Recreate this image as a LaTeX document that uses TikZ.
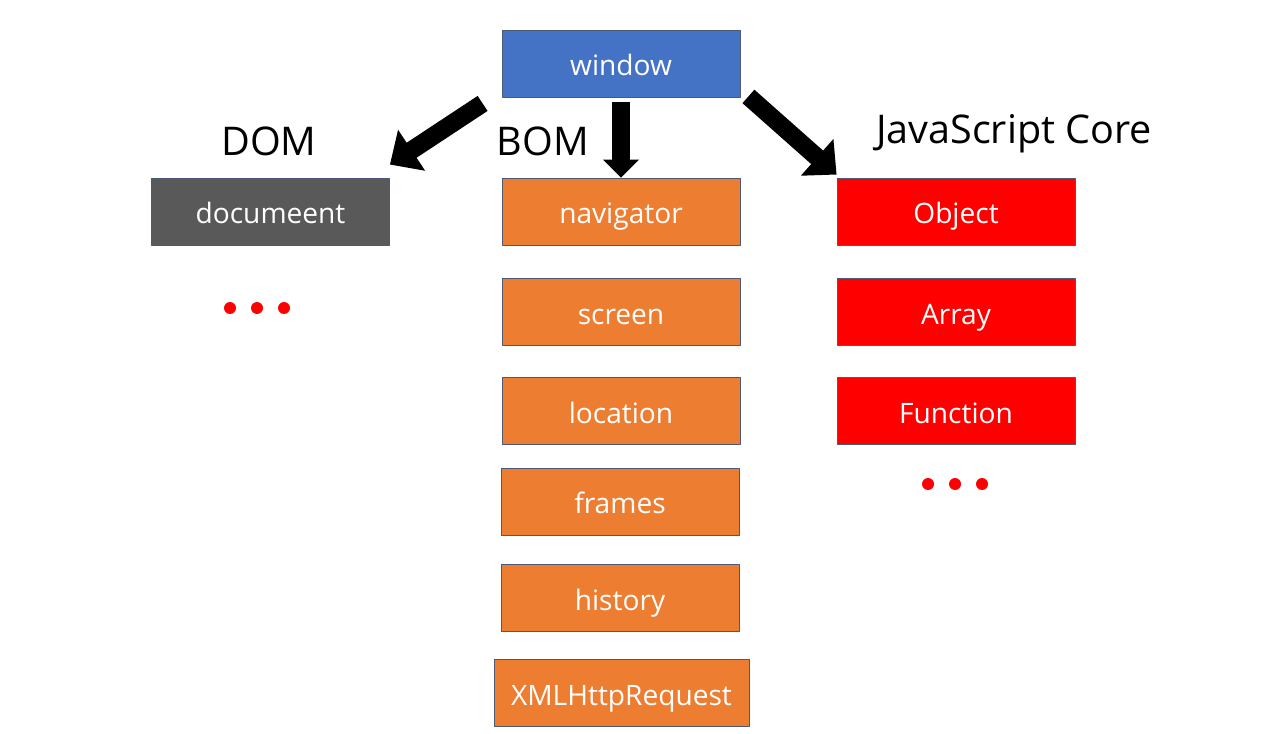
\documentclass[tikz,border=0pt]{standalone}
\usepackage{fontspec}
\setmainfont{Open Sans}
\usetikzlibrary{arrows.meta}
\definecolor{winblue}{HTML}{4472C4}
\definecolor{bomorange}{HTML}{ED7D31}
\definecolor{domgray}{HTML}{595959}
\definecolor{edgeblue}{HTML}{4A5A78}

\begin{document}
\begin{tikzpicture}[x=0.02cm, y=-0.02cm, line join=round,
    box/.style={draw=edgeblue, line width=0.5pt, minimum width=4.76cm, minimum height=1.34cm,
        inner sep=0pt, text height=16pt, text depth=2pt, text=white, font=\fontsize{16}{19}\selectfont},
    bigarrow/.style={line width=0.36cm, -{Triangle[length=0.52cm, width=0.95cm]}},
    downarrow/.style={line width=0.36cm, -{Triangle[length=0.36cm, width=0.7cm]}},
    title/.style={font=\fontsize{22.5}{27}\selectfont}]
        \useasboundingbox (0,0) rectangle (1280,733);

        % 顶层 window
        \node[box, fill=winblue] (window) at (621,63.5) {window};

        % 三个分类标题
        \node[title] (domlabel) at (269,141) {DOM};
        \node[title] (bomlabel) at (543,141) {BOM};
        \node[title] (corelabel) at (1014,134) {JavaScript Core};

        % DOM
        \node[box, fill=domgray] (document) at (270.5,211.5) {documeent};

        % BOM
        \node[box, fill=bomorange] (navigator) at (621,211.5) {navigator};
        \node[box, fill=bomorange] (screen) at (621,312) {screen};
        \node[box, fill=bomorange] (location) at (621,411) {location};
        \node[box, fill=bomorange] (frames) at (620,501.5) {frames};
        \node[box, fill=bomorange] (history) at (620,598) {history};
        \node[box, fill=bomorange, minimum width=5.1cm] (xhr) at (621.5,693) {XMLHttpRequest};

        % JavaScript Core
        \node[box, fill=red] (object) at (956,211.5) {Object};
        \node[box, fill=red] (array) at (956,312) {Array};
        \node[box, fill=red] (function) at (956,411) {Function};

        % 省略号
        \foreach \x in {230,257,284}
            \fill[red] (\x,308) circle (0.12cm);
        \foreach \x in {928,955,982}
            \fill[red] (\x,484) circle (0.12cm);

        % 粗箭头
        \draw[bigarrow] ([shift={(-19,6)}]window.south west) -- ([shift={(0,-13)}]document.north east);
        \draw[downarrow] ([shift={(0,5)}]window.south) -- (navigator.north);
        \draw[bigarrow] ([shift={(8,-1)}]window.south east) -- ([shift={(0,-3)}]object.north west);
    \end{tikzpicture}
\end{document}
